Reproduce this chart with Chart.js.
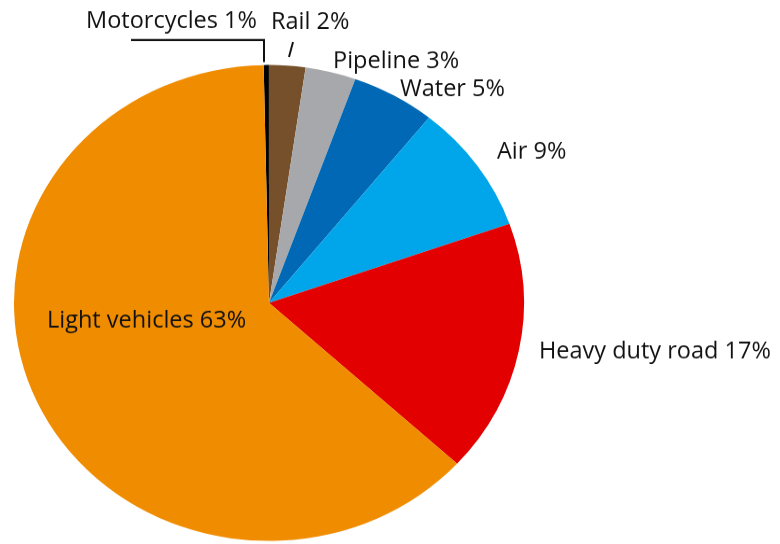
<!DOCTYPE html>
<html>
<head>
<meta charset="utf-8">
<script src="https://cdn.jsdelivr.net/npm/chart.js@4.4.1/dist/chart.umd.min.js"></script>
<style>
  html, body { margin: 0; padding: 0; background: #fff; overflow: hidden; }
  #wrap { width: 780px; height: 583px; transform: scaleY(0.9333); transform-origin: 0 0; }
</style>
</head>
<body>
<div id="wrap"><canvas id="transportPie" width="780" height="583"></canvas></div>
<script>
// shares of transport energy use, clockwise from just left of 12 o'clock
const categories = ['Motorcycles', 'Rail', 'Pipeline', 'Water', 'Air', 'Heavy duty road', 'Light vehicles'];
const shares = [0.33, 2.3, 3.2, 5.3, 8.8, 17.2, 62.87];
const shareLabels = ['1%', '2%', '3%', '5%', '9%', '17%', '63%'];
const sliceColors = ['#000000', '#75502b', '#a7a8ab', '#0068b4', '#00a6e9', '#e30000', '#f08c00'];

const squash = 0.9333; // pie is drawn slightly flattened

// label anchors in px, relative to the pie centre as seen on screen
const labelPos = [[-183, -275], [2, -274], [64, -235], [131, -207], [228, -144], [270, 55], [-222, 25]];
const leaders = [
  [[-138, -263], [-5, -263], [-5, -241]],
  [[20, -246], [24, -261]]
];

const labelPlugin = {
  id: 'pieLabels',
  afterDraw(chart) {
    const arc = chart.getDatasetMeta(0).data[0];
    const cx = arc.x, cy = arc.y * squash;
    const ctx = chart.ctx;
    ctx.save();
    ctx.scale(1, 1 / squash);
    ctx.fillStyle = '#111';
    ctx.font = '23.5px "Open Sans"';
    ctx.textAlign = 'left';
    ctx.textBaseline = 'alphabetic';
    categories.forEach((c, i) => {
      ctx.fillText(c + ' ' + shareLabels[i], cx + labelPos[i][0], cy + labelPos[i][1]);
    });
    ctx.strokeStyle = '#111';
    ctx.lineWidth = 2;
    leaders.forEach(pts => {
      ctx.beginPath();
      pts.forEach((p, j) => {
        if (j == 0) ctx.moveTo(cx + p[0], cy + p[1]);
        else ctx.lineTo(cx + p[0], cy + p[1]);
      });
      ctx.stroke();
    });
    ctx.restore();
  }
};

new Chart('transportPie', {
  type: 'pie',
  data: {
    labels: categories,
    datasets: [{
      data: shares,
      backgroundColor: sliceColors,
      borderWidth: 0
    }]
  },
  options: {
    responsive: false,
    animation: false,
    rotation: -1.2,
    layout: { padding: { left: 14, right: 256, top: 69.6, bottom: 3.4 } },
    plugins: {
      legend: { display: false },
      tooltip: { enabled: false }
    }
  },
  plugins: [labelPlugin]
});
</script>
</body>
</html>
